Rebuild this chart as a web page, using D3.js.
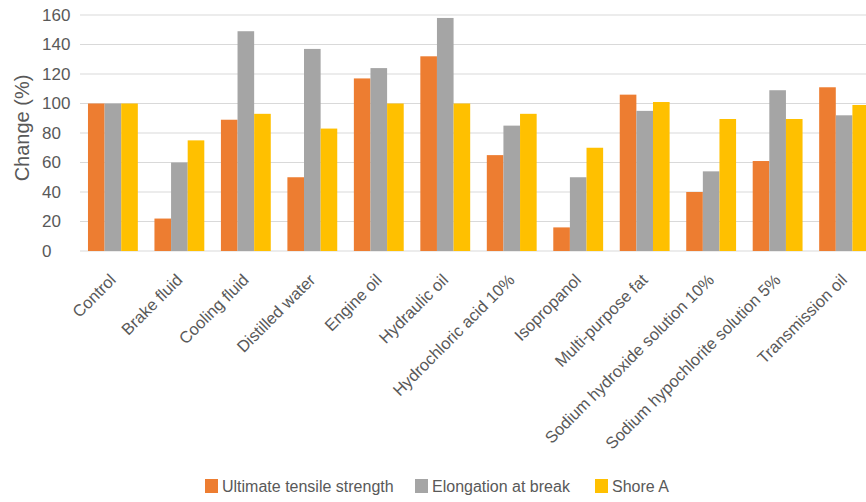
<!DOCTYPE html>
<html>
<head>
<meta charset="utf-8">
<script src="https://cdn.jsdelivr.net/npm/d3@7"></script>
<style>
  body { margin: 0; background: #fff; overflow: hidden; }
  svg { font-family: "Liberation Sans", Arial, sans-serif; }
</style>
</head>
<body>
<svg id="chart" width="866" height="502"></svg>
<script>
const categories = [
  "Control", "Brake fluid", "Cooling fluid", "Distilled water", "Engine oil",
  "Hydraulic oil", "Hydrochloric acid 10%", "Isopropanol", "Multi-purpose fat",
  "Sodium hydroxide solution 10%", "Sodium hypochlorite solution 5%", "Transmission oil"
];
const seriesNames = ["Ultimate tensile strength", "Elongation at break", "Shore A"];
const tensile = [100, 22, 89, 50, 117, 132, 65, 16, 106, 40, 61, 111];
const elongation = [100, 60, 149, 137, 124, 158, 85, 50, 95, 54, 109, 92];
const shoreA = [100, 75, 93, 83, 100, 100, 93, 70, 101, 89.5, 89.5, 99];
const yTicks = [0, 20, 40, 60, 80, 100, 120, 140, 160];
const colors = ["#ED7D31", "#A5A5A5", "#FFC000"];

const svg = d3.select("#chart");
const allSeries = [tensile, elongation, shoreA];
const textColor = "#595959";

const x0 = d3.scaleBand()
  .domain(categories)
  .range([80, 877])
  .paddingInner(0.25)
  .paddingOuter(0.12);

const x1 = d3.scaleBand()
  .domain(seriesNames)
  .range([0, x0.bandwidth()]);

const y = d3.scaleLinear()
  .domain([0, 160])
  .range([251, 15]);

// gridlines
svg.append("g")
  .selectAll("line")
  .data(yTicks)
  .enter()
  .append("line")
  .attr("x1", 80)
  .attr("x2", 878)
  .attr("y1", d => y(d))
  .attr("y2", d => y(d))
  .attr("stroke", "#d9d9d9")
  .attr("stroke-width", 1);

// y tick labels (left aligned in the original)
const yAxis = svg.append("g")
  .attr("transform", "translate(42,0)")
  .call(d3.axisLeft(y).tickValues(yTicks).tickSize(0).tickPadding(0));
yAxis.select(".domain").remove();
yAxis.selectAll("text")
  .attr("x", 0)
  .attr("text-anchor", "start")
  .style("font-size", "17px")
  .attr("fill", textColor)
  .attr("font-family", "Liberation Sans, Arial, sans-serif");

// bars
const groups = svg.append("g")
  .selectAll("g")
  .data(categories)
  .enter()
  .append("g")
  .attr("transform", d => `translate(${x0(d)},0)`);

groups.selectAll("rect")
  .data((d, i) => allSeries.map((s, j) => ({ key: seriesNames[j], value: s[i], color: colors[j] })))
  .enter()
  .append("rect")
  .attr("x", d => x1(d.key))
  .attr("y", d => y(d.value))
  .attr("width", x1.bandwidth())
  .attr("height", d => y(0) - y(d.value))
  .attr("fill", d => d.color);

// x axis labels, rotated
const xAxis = svg.append("g")
  .attr("transform", `translate(0,${y(0)})`)
  .call(d3.axisBottom(x0).tickSize(0).tickPadding(0));
xAxis.select(".domain").remove();
xAxis.selectAll("text")
  .attr("x", 0)
  .attr("y", 0)
  .attr("dy", 0)
  .style("font-size", "16.5px")
  .attr("fill", textColor)
  .attr("font-family", "Liberation Sans, Arial, sans-serif")
  .attr("text-anchor", "end")
  .attr("transform", "translate(4,30) rotate(-45)");

// y axis title
svg.append("text")
  .attr("transform", "translate(29,128) rotate(-90)")
  .attr("text-anchor", "middle")
  .attr("fill", textColor)
  .style("font-size", "20px")
  .text("Change (%)");

// legend
const legendX = [205, 415, 595];
const legend = svg.append("g")
  .selectAll("g")
  .data(seriesNames)
  .enter()
  .append("g")
  .attr("transform", (d, i) => `translate(${legendX[i]},479)`);

legend.append("rect")
  .attr("width", 13)
  .attr("height", 14)
  .attr("fill", (d, i) => colors[i]);

legend.append("text")
  .attr("x", 17)
  .attr("y", 13)
  .attr("fill", textColor)
  .style("font-size", "16px")
  .text(d => d);
</script>
</body>
</html>
